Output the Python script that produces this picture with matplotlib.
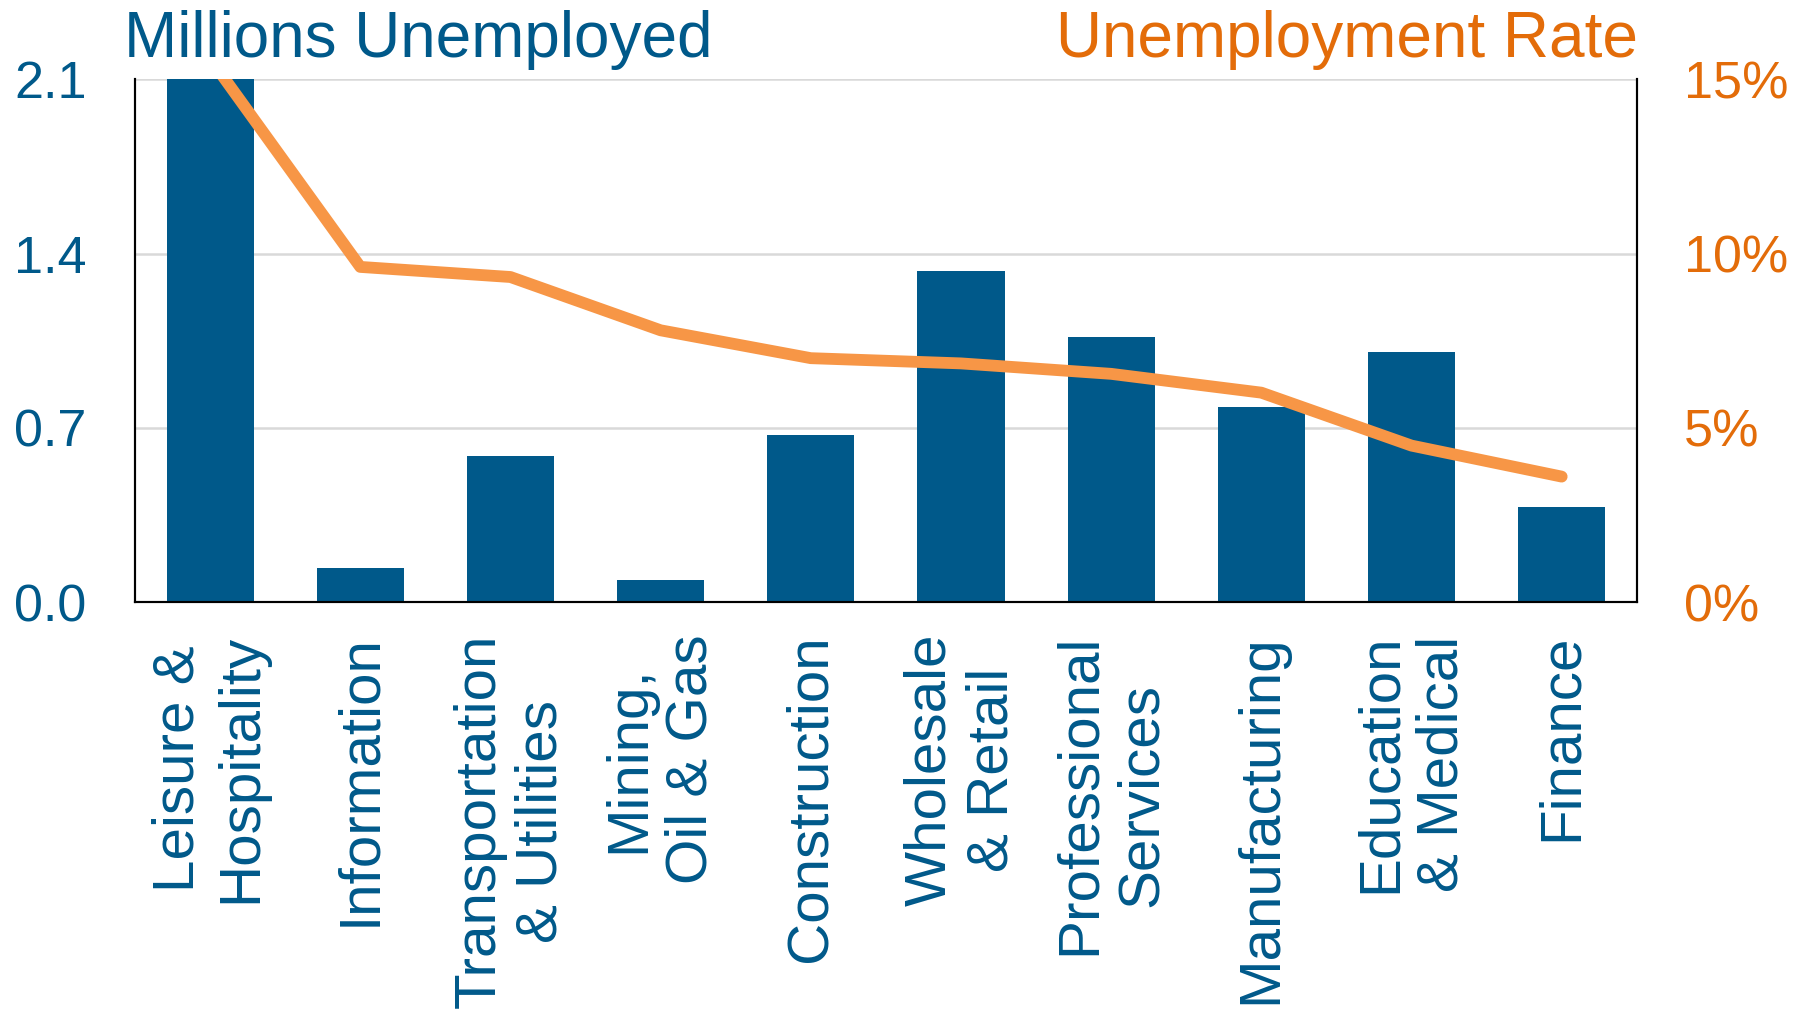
import matplotlib
matplotlib.use("Agg")
import matplotlib.pyplot as plt
import numpy as np

plt.rcParams['font.family'] = ['Liberation Sans', 'DejaVu Sans']

categories = ["Leisure &\nHospitality", "Information", "Transportation\n& Utilities",
              "Mining,\nOil & Gas", "Construction", "Wholesale\n& Retail",
              "Professional\nServices", "Manufacturing", "Education\n& Medical", "Finance"]
millions_unemployed = [2.3, 0.135, 0.587, 0.088, 0.67, 1.33, 1.065, 0.785, 1.005, 0.382]
unemployment_rate = [15.6, 9.62, 9.33, 7.8, 7.0, 6.85, 6.55, 6.01, 4.49, 3.60]
left_ticks = [0.0, 0.7, 1.4, 2.1]
left_labels = ["0.0", "0.7", "1.4", "2.1"]
right_ticks = [0, 5, 10, 15]
right_labels = ["0%", "5%", "10%", "15%"]

BLUE = '#00598A'
ORANGE_TXT = '#E36C09'
ORANGE_LINE = '#F79646'

fig = plt.figure(figsize=(18.05, 10.14), dpi=100)
ax = fig.add_axes([0.0748, 0.4063, 0.832, 0.5153])
ax2 = ax.twinx()

x = np.arange(len(categories))
ax.bar(x, millions_unemployed, width=0.58, color=BLUE, zorder=2)
ax.set_xlim(-0.5, len(categories) - 0.5)
ax.set_ylim(0, 2.1)
ax.set_yticks(left_ticks)
ax.set_yticklabels(left_labels)
ax.yaxis.grid(True, color='#D9D9D9', lw=1.8)
ax.set_axisbelow(True)
ax.tick_params(axis='y', length=0, pad=35, labelsize=37.5, labelcolor=BLUE)
ax.set_xticks(x)
ax.set_xticklabels(categories, rotation=90, ha='center', va='top',
                   multialignment='center', linespacing=1.2)
ax.tick_params(axis='x', length=0, pad=23, labelsize=42, labelcolor=BLUE)

ax2.plot(x, unemployment_rate, color=ORANGE_LINE, lw=8.5, solid_capstyle='round',
         solid_joinstyle='round', zorder=3)
ax2.set_ylim(0, 15)
ax2.set_yticks(right_ticks)
ax2.set_yticklabels(right_labels)
ax2.tick_params(axis='y', length=0, pad=34, labelsize=37.5, labelcolor=ORANGE_TXT)

for a in (ax, ax2):
    a.spines['top'].set_visible(False)
    for s in ('left', 'right', 'bottom'):
        a.spines[s].set_color('black')
        a.spines[s].set_linewidth(1.5)

fig.text(0.0689, 0.9433, "Millions Unemployed", color=BLUE, fontsize=46,
         ha='left', va='baseline')
fig.text(0.9075, 0.9433, "Unemployment Rate", color=ORANGE_TXT, fontsize=46,
         ha='right', va='baseline')

fig.savefig("out.png", dpi=100)
